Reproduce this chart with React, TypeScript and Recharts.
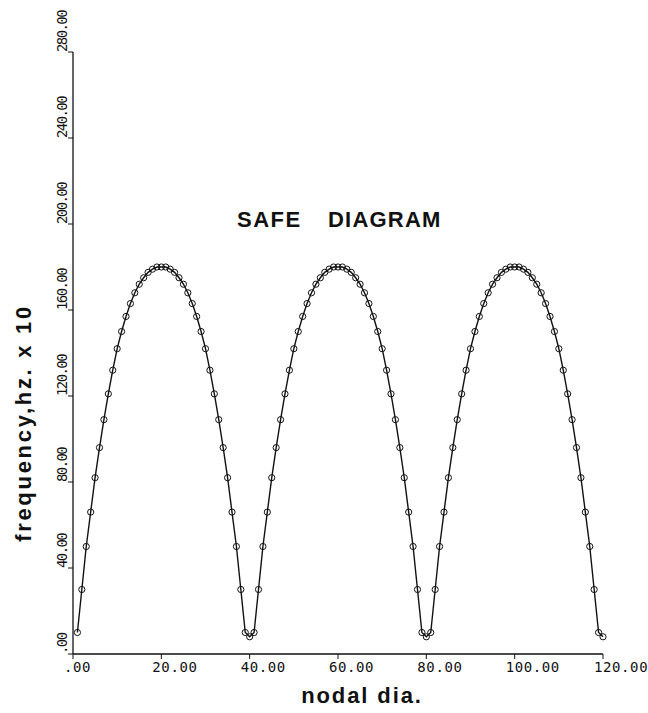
import React from "react";
import { LineChart, Line, XAxis, YAxis, Label, Customized } from "recharts";

const nodalDia = [
  1, 2, 3, 4, 5, 6, 7, 8, 9, 10, 11, 12, 13, 14, 15, 16, 17, 18, 19, 20,
  21, 22, 23, 24, 25, 26, 27, 28, 29, 30, 31, 32, 33, 34, 35, 36, 37, 38, 39, 40,
  41, 42, 43, 44, 45, 46, 47, 48, 49, 50, 51, 52, 53, 54, 55, 56, 57, 58, 59, 60,
  61, 62, 63, 64, 65, 66, 67, 68, 69, 70, 71, 72, 73, 74, 75, 76, 77, 78, 79, 80,
  81, 82, 83, 84, 85, 86, 87, 88, 89, 90, 91, 92, 93, 94, 95, 96, 97, 98, 99, 100,
  101, 102, 103, 104, 105, 106, 107, 108, 109, 110, 111, 112, 113, 114, 115, 116, 117, 118, 119, 120,
];

const frequency = [
  10, 30, 50, 66, 82, 96, 109, 121, 132, 142, 150, 157, 163, 168, 172, 175, 177.5, 179, 180, 180,
  180, 179, 177.5, 175, 172, 168, 163, 157, 150, 142, 132, 121, 109, 96, 82, 66, 50, 30, 10, 8,
  10, 30, 50, 66, 82, 96, 109, 121, 132, 142, 150, 157, 163, 168, 172, 175, 177.5, 179, 180, 180,
  180, 179, 177.5, 175, 172, 168, 163, 157, 150, 142, 132, 121, 109, 96, 82, 66, 50, 30, 10, 8,
  10, 30, 50, 66, 82, 96, 109, 121, 132, 142, 150, 157, 163, 168, 172, 175, 177.5, 179, 180, 180,
  180, 179, 177.5, 175, 172, 168, 163, 157, 150, 142, 132, 121, 109, 96, 82, 66, 50, 30, 10, 8,
];

const xTicks = [0, 20, 40, 60, 80, 100, 120];
const xTickLabels = [".00", "20.00", "40.00", "60.00", "80.00", "100.00", "120.00"];
const yTicks = [0, 40, 80, 120, 160, 200, 240, 280];
const yTickLabels = [".00", "40.00", "80.00", "120.00", "160.00", "200.00", "240.00", "280.00"];

const chartTitle = ["SAFE", "DIAGRAM"];
const xTitle = "nodal dia.";
const yTitle = "frequency,hz. x 10";

const data = nodalDia.map((d, i) => ({ d, f: frequency[i] }));

const tickFont = "'DejaVu Sans Mono', monospace";
const titleFont = "'Liberation Sans', Arial, sans-serif";

const XTick = (props: any) => {
  const { x, y, payload } = props;
  const i = xTicks.indexOf(payload.value);
  return (
    <text x={x - 9} y={y + 11} textAnchor="start" fontFamily={tickFont} fontSize={14} letterSpacing={0.6} fill="#111">
      {xTickLabels[i]}
    </text>
  );
};

const YTick = (props: any) => {
  const { x, y, payload } = props;
  const i = yTicks.indexOf(payload.value);
  const bx = x + 1;
  return (
    <text x={bx} y={y} transform={`rotate(-90, ${bx}, ${y})`} textAnchor="start" fontFamily={tickFont} fontSize={14} letterSpacing={-1.6} fill="#111">
      {yTickLabels[i]}
    </text>
  );
};

const Title = () => (
  <g>
    <text x={237} y={227} fontFamily={titleFont} fontWeight="bold" fontSize={22} letterSpacing={1.5} fill="#111">
      {chartTitle[0]}
    </text>
    <text x={328} y={227} fontFamily={titleFont} fontWeight="bold" fontSize={22} letterSpacing={1.2} fill="#111">
      {chartTitle[1]}
    </text>
  </g>
);

export default function App() {
  return (
    <div style={{ position: "absolute", left: 0, top: 0, width: 648, height: 713, background: "#fff" }}>
      <LineChart width={648} height={713} data={data} margin={{ top: 52, right: 45, left: 0, bottom: 0 }}>
        <XAxis
          dataKey="d"
          type="number"
          domain={[0, 120]}
          ticks={xTicks}
          tick={<XTick />}
          tickSize={5}
          height={59}
          stroke="#111"
          tickLine={{ stroke: "#111" }}
          axisLine={{ stroke: "#111", strokeWidth: 1.3 }}
        >
          <Label
            content={() => (
              <text x={362} y={703} textAnchor="middle" fontFamily={titleFont} fontWeight="bold" fontSize={22} letterSpacing={1.9} fill="#111">
                {xTitle}
              </text>
            )}
          />
        </XAxis>
        <YAxis
          type="number"
          domain={[0, 280]}
          ticks={yTicks}
          tick={<YTick />}
          tickSize={5}
          width={73}
          stroke="#111"
          tickLine={{ stroke: "#111" }}
          axisLine={{ stroke: "#111", strokeWidth: 1.3 }}
        >
          <Label
            content={() => (
              <text x={31} y={423} transform="rotate(-90, 31, 423)" textAnchor="middle" fontFamily={titleFont} fontWeight="bold" fontSize={22} letterSpacing={2.7} fill="#111">
                {yTitle}
              </text>
            )}
          />
        </YAxis>
        <Line
          dataKey="f"
          type="linear"
          stroke="#111"
          strokeWidth={1.4}
          dot={{ r: 3.1, fill: "none", stroke: "#111", strokeWidth: 1 }}
          activeDot={false}
          isAnimationActive={false}
        />
        <Customized component={Title} />
      </LineChart>
    </div>
  );
}
